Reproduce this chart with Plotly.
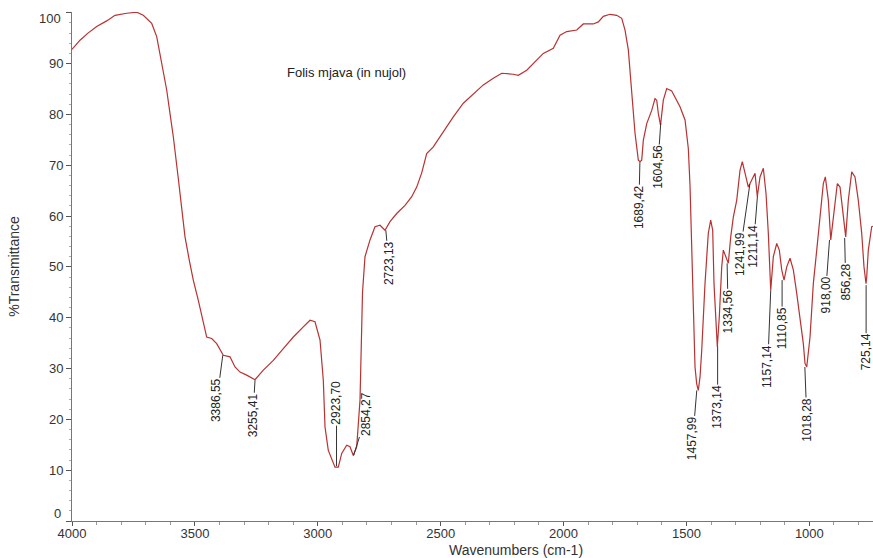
import plotly.graph_objects as go

# ---- spectrum data (wavenumber cm-1, %T) ----
wavenumber = [
    4000, 3967.4, 3934.9, 3899.5, 3858.8, 3825.0, 3777.4, 3736.7, 3709.9, 3675.7,
    3655.4, 3635.0, 3614.7, 3601.3, 3587.8, 3567.5, 3553.7, 3540.2, 3522.7, 3506.5,
    3486.1, 3465.8, 3452.0, 3431.6, 3411.3, 3384.4, 3357.1, 3336.8, 3316.4, 3289.2,
    3255.4, 3221.6, 3180.9, 3140.3, 3099.6, 3058.9, 3031.6, 3011.3, 2990.9, 2977.5,
    2970.6, 2957.2, 2929.9, 2916.5, 2902.6, 2882.3, 2868.9, 2855.4, 2841.6, 2828.2,
    2824.0, 2818.0, 2807.9, 2787.5, 2767.2, 2746.8, 2726.5, 2706.1, 2678.9, 2645.1,
    2617.8, 2597.5, 2577.2, 2556.8, 2530.0, 2502.7, 2475.4, 2448.6, 2407.9, 2367.2,
    2326.5, 2285.8, 2251.6, 2204.4, 2184.1, 2149.9, 2109.2, 2082.4, 2041.7, 2014.4,
    1987.1, 1946.4, 1919.6, 1878.9, 1858.5, 1838.2, 1810.9, 1783.7, 1763.3, 1749.9,
    1736.5, 1722.6, 1709.2, 1695.8, 1688.9, 1682.0, 1675.5, 1661.6, 1641.3, 1627.9,
    1621.0, 1614.5, 1605.5, 1594.1, 1580.3, 1560.0, 1539.6, 1526.2, 1505.8, 1492.4,
    1485.5, 1478.6, 1472.1, 1465.2, 1458.3, 1451.8, 1444.8, 1437.9, 1424.5, 1411.1,
    1401.3, 1393.2, 1387.9, 1379.7, 1374.4, 1366.3, 1356.5, 1350.0, 1339.0, 1329.7,
    1319.9, 1309.3, 1295.5, 1282.1, 1272.7, 1261.7, 1248.3, 1234.5, 1221.0, 1211.7,
    1200.7, 1187.2, 1176.2, 1166.9, 1160.0, 1157.1, 1146.5, 1132.7, 1122.1, 1112.3,
    1102.9, 1092.0, 1078.6, 1065.1, 1051.3, 1037.9, 1024.5, 1017.6, 1010.6, 997.2,
    983.8, 969.9, 956.5, 943.1, 934.9, 922.7, 912.9, 902.4, 886.1, 875.2,
    861.7, 852.0, 841.4, 827.6, 814.2, 800.8, 786.9, 777.6, 769.4, 766.6,
    760.1, 746.3, 741.0,
]
transmittance = [
    92.8, 94.6, 96.0, 97.3, 98.4, 99.5, 99.9, 100.1, 99.5, 97.9,
    95.3, 90.0, 84.8, 80.2, 75.6, 67.4, 61.8, 55.9, 51.3, 47.4,
    43.4, 38.9, 36.2, 35.9, 34.9, 32.6, 32.3, 30.3, 29.3, 28.7,
    27.8, 29.7, 31.6, 33.9, 36.2, 38.2, 39.5, 39.2, 35.6, 27.7,
    18.5, 13.9, 10.6, 10.6, 13.3, 14.9, 14.6, 12.9, 14.6, 23.8,
    33.0, 45.0, 52.0, 55.3, 57.9, 58.2, 57.2, 58.9, 60.5, 62.1,
    63.8, 65.7, 68.5, 72.3, 73.6, 75.6, 77.6, 79.5, 82.2, 84.1,
    85.8, 87.1, 88.1, 87.9, 87.7, 88.7, 90.7, 92.0, 93.0, 95.6,
    96.3, 96.6, 97.8, 97.8, 98.2, 99.3, 99.7, 99.5, 98.9, 96.6,
    92.7, 84.0, 76.3, 71.0, 70.7, 71.0, 74.9, 78.2, 80.8, 83.1,
    82.8, 80.2, 77.9, 82.8, 85.1, 84.6, 82.8, 81.5, 78.9, 73.3,
    66.0, 55.0, 42.0, 30.3, 27.0, 25.7, 28.3, 33.6, 46.7, 56.6,
    59.2, 57.2, 46.7, 40.2, 34.3, 40.2, 50.0, 53.3, 52.0, 50.7,
    55.9, 59.8, 63.1, 69.0, 70.7, 68.4, 65.7, 67.1, 68.4, 63.8,
    67.7, 69.4, 64.4, 56.6, 48.0, 45.4, 52.0, 54.6, 53.3, 49.4,
    47.4, 50.0, 51.7, 49.4, 44.8, 40.2, 34.9, 31.0, 30.3, 36.2,
    46.7, 53.3, 59.8, 66.4, 67.7, 63.1, 55.3, 59.8, 66.4, 65.7,
    59.8, 55.9, 63.1, 68.7, 67.7, 63.1, 56.6, 50.0, 46.7, 48.0,
    53.3, 57.9, 58.0,
]

# ---- peak labels ----
peak_text = ["3386,55", "3255,41", "2923,70", "2854,27", "2723,13", "1689,42",
             "1604,56", "1457,99", "1373,14", "1334,56", "1241,99", "1211,14",
             "1157,14", "1110,85", "1018,28", "918,00", "856,28", "725,14"]
peak_wn = [3386.55, 3255.41, 2923.70, 2854.27, 2723.13, 1689.42,
           1604.56, 1457.99, 1373.14, 1334.56, 1241.99, 1211.14,
           1157.14, 1110.85, 1018.28, 918.00, 856.28, 769.0]
peak_t = [32.6, 27.7, 10.8, 12.9, 57.2, 70.6,
          78.3, 25.7, 34.4, 50.7, 66.3, 63.9,
          45.4, 47.4, 30.3, 55.3, 55.7, 46.4]

# label offsets (pixels) from the peak point to the label centre
label_offsets = [(-6, 45), (-2, 35), (0, -63), (13, -41), (3, 33), (-1, 45),
                 (-3, 44), (-4, 48), (0, 61), (1, 48), (-10, 70), (-4, 50),
                 (-3, 76), (0, 48), (2, 53), (-4, 55), (1, 44), (0, 67)]

x_ticks = [4000, 3500, 3000, 2500, 2000, 1500, 1000]
y_ticks = [0, 10, 20, 30, 40, 50, 60, 70, 80, 90, 100]

FONT = "Liberation Sans, Arial, sans-serif"
TXT = "#333333"

W, H = 873, 558
L, R, T, B = 72, 0, 12, 37
pw, ph = W - L - R, H - T - B


def page_to_paper(px, py):
    return (px - L) / pw, (H - B - py) / ph


fig = go.Figure()
fig.add_trace(go.Scatter(
    x=wavenumber, y=transmittance, mode="lines",
    line=dict(color="#b83232", width=1.2), hoverinfo="skip", showlegend=False,
))

annotations = []
for txt, xw, yt, (ax, ay) in zip(peak_text, peak_wn, peak_t, label_offsets):
    annotations.append(dict(
        x=xw, y=yt, xref="x", yref="y", text=txt, textangle=-90,
        showarrow=True, arrowhead=0, arrowwidth=1, arrowcolor="#333333",
        ax=ax, ay=ay, standoff=0, startstandoff=0, borderpad=0,
        font=dict(family=FONT, size=12, color="#222222"),
    ))

# shifted end labels of the y axis
annotations.append(dict(x=0, xref="paper", y=100, yref="y", text="100",
                        xanchor="right", yanchor="middle", xshift=-9, yshift=-6,
                        showarrow=False, font=dict(family=FONT, size=13, color=TXT)))
annotations.append(dict(x=0, xref="paper", y=0, yref="y", text="0",
                        xanchor="right", yanchor="middle", xshift=-9, yshift=8,
                        showarrow=False, font=dict(family=FONT, size=13, color=TXT)))
# sample name inside plot
fx, fy = page_to_paper(346, 72)
annotations.append(dict(x=fx, y=fy, xref="paper", yref="paper", text="Folis mjava (in nujol)",
                        xanchor="center", yanchor="middle",
                        showarrow=False, font=dict(family=FONT, size=13, color="#222222")))
# x-axis title
tx, ty = page_to_paper(516, 550)
annotations.append(dict(x=tx, y=ty, xref="paper", yref="paper", text="Wavenumbers (cm-1)",
                        xanchor="center", yanchor="middle",
                        showarrow=False, font=dict(family=FONT, size=14, color=TXT)))

fig.update_layout(
    width=W, height=H,
    margin=dict(l=L, r=R, t=T, b=B, autoexpand=False),
    paper_bgcolor="white", plot_bgcolor="white",
    font=dict(family=FONT, size=13, color=TXT),
    annotations=annotations,
    xaxis=dict(
        range=[4000, 741], tickvals=x_ticks, ticktext=[str(v) for v in x_ticks],
        showgrid=False, zeroline=False, showline=True, linecolor="#777777", linewidth=1,
        ticks="outside", ticklen=4, tickcolor="#555555", ticklabelstandoff=-4,
        minor=dict(dtick=100, ticks="outside", ticklen=3, tickcolor="#999999", showgrid=False),
        tickfont=dict(family=FONT, size=13, color=TXT),
    ),
    yaxis=dict(
        range=[0, 100.15], tickvals=y_ticks,
        ticktext=["" if v in (0, 100) else str(v) for v in y_ticks],
        showgrid=False, zeroline=False, showline=True, linecolor="#777777", linewidth=1,
        ticks="outside", ticklen=5, tickcolor="#555555",
        minor=dict(dtick=2, ticks="outside", ticklen=2, tickcolor="#aaaaaa", showgrid=False),
        tickfont=dict(family=FONT, size=13, color=TXT),
        title=dict(text="%Transmittance", font=dict(family=FONT, size=14, color=TXT), standoff=26),
    ),
)

fig.write_html(
    "out.html",
    config={"displayModeBar": False},
    post_script="document.body.style.margin='0px';"
                "document.body.style.overflow='hidden';"
                "document.documentElement.style.overflow='hidden';",
)
